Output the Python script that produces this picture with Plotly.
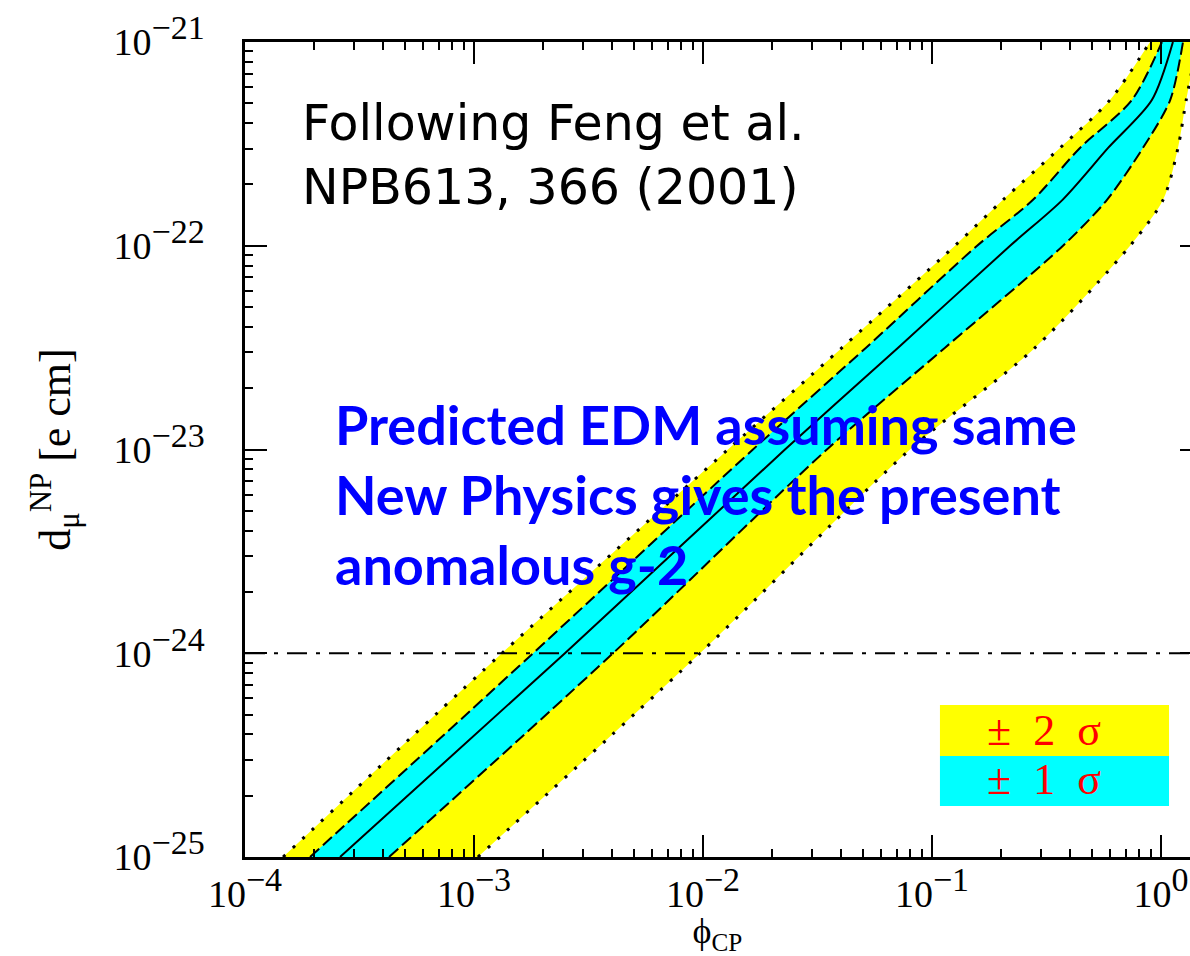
import plotly.graph_objects as go

# EDM values [e cm] at which the band edges are sampled
d_levels = [1e-25, 1e-24, 1e-23, 3.16e-23, 1e-22, 1.68e-22, 3.02e-22, 5.19e-22, 1e-21]

# phi_CP at the edges of the bands for each EDM level
phi_2s_low = [1.466e-4, 1.324e-3, 1.285e-2, 4.046e-2, 0.1259, 0.2042, 0.3622, 0.5984, 0.8954]
phi_1s_low = [1.923e-4, 1.811e-3, 1.652e-2, 5.152e-2, 0.1574, 0.2761, 0.4426, 0.7464, 1.0093]
phi_central = [2.600e-4, 2.495e-3, 2.280e-2, 7.112e-2, 0.2193, 0.3715, 0.5875, 0.9120, 1.1272]
phi_1s_high = [4.256e-4, 4.046e-3, 3.475e-2, 0.1140, 0.3733, 0.5808, 0.8337, 1.0965, 1.2474]
phi_2s_high = [1.040e-3, 9.705e-3, 8.017e-2, 0.2818, 0.7328, 1.0209, 1.1858, 1.2882, 1.4454]

# horizontal reference level
edm_reference = 1e-24

# axis ticks
x_major = [1e-4, 1e-3, 1e-2, 1e-1, 1e0]
x_labels = ["−4", "−3", "−2", "−1", "0"]
y_major = [1e-25, 1e-24, 1e-23, 1e-22, 1e-21]
y_labels = ["−25", "−24", "−23", "−22", "−21"]

x_minor = [k * 10.0 ** e for e in range(-4, 0) for k in range(2, 10)]
y_minor = [k * 10.0 ** e for e in range(-25, -21) for k in range(2, 10)]

SERIF = "Liberation Serif, Times New Roman, serif"
YELLOW = "#FFFF00"
CYAN = "#00FFFF"
SMOOTH = dict(shape="spline", smoothing=0.8)


def power_label(exp):
    return f"10<sup><span style='font-size:34px'>{exp}</span></sup>"


fig = go.Figure()


def band(lo, hi, color):
    fig.add_trace(go.Scatter(x=lo, y=d_levels, mode="lines",
                             line=dict(width=0, **SMOOTH), hoverinfo="skip"))
    fig.add_trace(go.Scatter(x=hi, y=d_levels, mode="lines", fill="tonextx",
                             fillcolor=color, line=dict(width=0, **SMOOTH),
                             hoverinfo="skip"))


band(phi_2s_low, phi_2s_high, YELLOW)
band(phi_1s_low, phi_1s_high, CYAN)

# band edges
for xs in (phi_2s_low, phi_2s_high):
    fig.add_trace(go.Scatter(x=xs, y=d_levels, mode="lines",
                             line=dict(color="black", width=3, dash="3px,10px", **SMOOTH),
                             hoverinfo="skip"))
for xs in (phi_1s_low, phi_1s_high):
    fig.add_trace(go.Scatter(x=xs, y=d_levels, mode="lines",
                             line=dict(color="black", width=2, dash="12px,5px", **SMOOTH),
                             hoverinfo="skip"))
fig.add_trace(go.Scatter(x=phi_central, y=d_levels, mode="lines",
                         line=dict(color="black", width=2, **SMOOTH), hoverinfo="skip"))

# dash-dot reference line
fig.add_trace(go.Scatter(x=[1e-4, 2.0], y=[edm_reference, edm_reference], mode="lines",
                         line=dict(color="black", width=2, dash="20px,9px,4px,9px"),
                         hoverinfo="skip"))

# carrier for the right-hand tick axis
fig.add_trace(go.Scatter(x=[1e-4], y=[1e-25], yaxis="y2", mode="markers",
                         marker=dict(opacity=0), hoverinfo="skip"))

fig.update_layout(
    width=1190, height=956,
    margin=dict(l=245, r=0, t=42, b=99),
    paper_bgcolor="white", plot_bgcolor="white",
    showlegend=False,
    xaxis=dict(
        type="log", range=[-4, 0.1266],
        showline=True, linecolor="black", linewidth=2.5, mirror="ticks",
        showgrid=False, zeroline=False,
        ticks="inside", ticklen=22, tickwidth=2, tickcolor="black",
        tickmode="array", tickvals=x_major, ticktext=[power_label(e) for e in x_labels],
        tickfont=dict(family=SERIF, size=38, color="black"),
        ticklabelstandoff=2,
        minor=dict(tickmode="array", tickvals=x_minor, ticks="inside", ticklen=8,
                   tickwidth=2, tickcolor="black", showgrid=False),
        title=dict(text="ϕ<sub>CP</sub>", font=dict(family=SERIF, size=36, color="black"),
                   standoff=8),
    ),
    yaxis=dict(
        type="log", range=[-25, -21],
        showline=True, linecolor="black", linewidth=2.5, mirror=False,
        showgrid=False, zeroline=False,
        ticks="inside", ticklen=22, tickwidth=2, tickcolor="black",
        tickmode="array", tickvals=y_major, ticktext=[power_label(e) for e in y_labels],
        tickfont=dict(family=SERIF, size=38, color="black"),
        ticklabelstandoff=30,
        minor=dict(tickmode="array", tickvals=y_minor, ticks="inside", ticklen=8,
                   tickwidth=2, tickcolor="black", showgrid=False),
        title=dict(text="d<sub>μ</sub><sup>NP</sup> [e cm]",
                   font=dict(family=SERIF, size=44, color="black"), standoff=30),
    ),
    yaxis2=dict(
        type="log", range=[-25, -21], overlaying="y", side="right", anchor="x",
        showline=False, showgrid=False, zeroline=False, showticklabels=False,
        ticks="inside", ticklen=10, tickwidth=2, tickcolor="black",
        tickmode="array", tickvals=y_major,
    ),
)

# legend swatches
fig.add_shape(type="rect", xref="paper", yref="paper",
              x0=0.7354, x1=0.9778, y0=0.1239, y1=0.1865,
              fillcolor=YELLOW, line=dict(width=0), layer="above")
fig.add_shape(type="rect", xref="paper", yref="paper",
              x0=0.7354, x1=0.9778, y0=0.0626, y1=0.1239,
              fillcolor=CYAN, line=dict(width=0), layer="above")
fig.add_annotation(text="±  2  σ", xref="paper", yref="paper", x=0.8455, y=0.1558,
                   xanchor="center", yanchor="middle", showarrow=False,
                   font=dict(family=SERIF, size=44, color="#FF0000"))
fig.add_annotation(text="±  1  σ", xref="paper", yref="paper", x=0.8455, y=0.0945,
                   xanchor="center", yanchor="middle", showarrow=False,
                   font=dict(family=SERIF, size=44, color="#FF0000"))

# reference note
fig.add_annotation(text="Following Feng et al.<br>NPB613, 366 (2001)",
                   xref="paper", yref="paper", x=0.0582, y=0.937,
                   xanchor="left", yanchor="top", align="left", showarrow=False,
                   font=dict(family="DejaVu Sans, Arial, sans-serif", size=49, color="black"))

# explanatory caption
fig.add_annotation(text="Predicted EDM assuming same<br>New Physics gives the present<br>anomalous g-2",
                   xref="paper", yref="paper", x=0.0931, y=0.4442,
                   xanchor="left", yanchor="middle", align="left", showarrow=False,
                   font=dict(family="Lato, sans-serif", size=54, color="#0000FF", weight="bold"))

fig.write_html("out.html")
